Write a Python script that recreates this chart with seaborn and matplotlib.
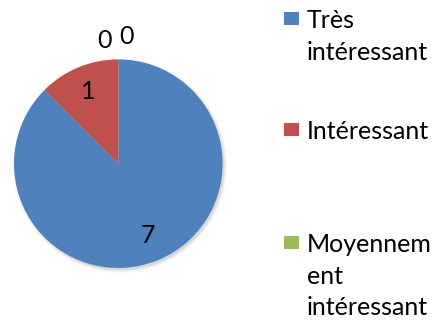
import matplotlib
matplotlib.use("Agg")
import matplotlib.pyplot as plt
import seaborn as sns
import numpy as np
from matplotlib.patches import Rectangle, Circle

# Survey answers
categories = ["Très intéressant", "Intéressant", "Moyennement intéressant", "Pas intéressant"]
legend_labels = ["Très\nintéressant", "Intéressant", "Moyennem\nent\nintéressant"]
counts = [7, 1, 0, 0]
colors = ["#4F81BD", "#C0504D", "#9BBB59", "#8064A2"]

sns.set_theme(style="white")
plt.rcParams["font.family"] = ["Lato", "DejaVu Sans"]
FS = 18

W, H = 434, 324
fig = plt.figure(figsize=(W / 100, H / 100), dpi=100)
fig.patch.set_facecolor("white")

# pie area in pixels: center (118, 164), radius ~104
cx, cy, r = 118.3, 163.7, 104.3
ax = fig.add_axes([(cx - r) / W, (H - cy - r) / H, 2 * r / W, 2 * r / H])

wedges, _ = ax.pie(counts, colors=colors, startangle=90, counterclock=False,
                   radius=1, wedgeprops=dict(linewidth=0))
for w in wedges:
    w.set_zorder(2)
ax.set_xlim(-1, 1)
ax.set_ylim(-1, 1)
ax.set_aspect("equal")
ax.axis("off")

# soft shadow under the pie
for i, a in enumerate(np.linspace(0.05, 0.01, 5)):
    ax.add_patch(Circle((0.015, -0.02), 1.0 + 0.008 * i, color="black", alpha=a,
                        lw=0, zorder=0, clip_on=False))

# data labels
zero_offsets = [(-0.137, 1.186), (0.083, 1.215)]
zi = 0
for w, v in zip(wedges, counts):
    if v > 0:
        mid = np.deg2rad((w.theta1 + w.theta2) / 2)
        x, y = 0.75 * np.cos(mid), 0.75 * np.sin(mid)
    else:
        x, y = zero_offsets[zi]
        zi += 1
    ax.text(x, y, str(v), ha="center", va="center", fontsize=FS, color="black",
            zorder=3, clip_on=False)

# legend: square sits beside the first line of each label
first_baselines = [28, 139, 252]
line_step = 31.5
for lab, col, base in zip(legend_labels, colors, first_baselines):
    fig.patches.append(Rectangle((284 / W, (H - base + 3) / H), 14.5 / W, 13.5 / H,
                                 transform=fig.transFigure, color=col, lw=0))
    lines = lab.split("\n")
    for k, line in enumerate(lines):
        fig.text(307 / W, (H - base - k * line_step) / H, line, ha="left",
                 va="baseline", fontsize=FS, color="black")

fig.savefig("out.png", dpi=100, facecolor="white")
